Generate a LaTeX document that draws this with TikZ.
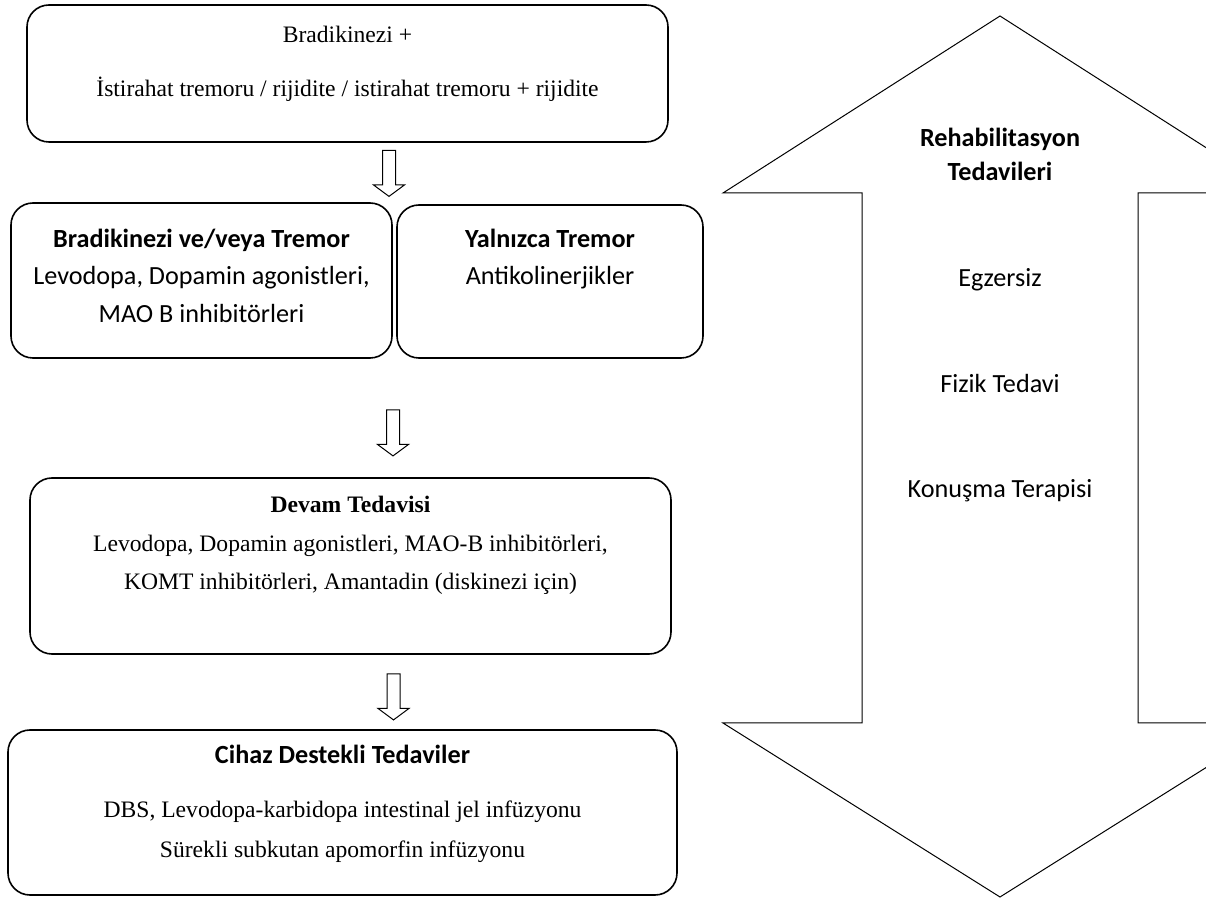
\documentclass[tikz,border=0pt]{standalone}
\usepackage{fontspec}
\setmainfont{Liberation Serif}
\newfontfamily\calibri{Carlito}
\usetikzlibrary{shapes.arrows}

\begin{document}
\begin{tikzpicture}[x=0.5pt,y=-0.5pt,
	box/.style={draw, line width=0.8pt, rounded corners=11pt, inner sep=0pt},
	serif/.style={anchor=base, inner sep=0pt, font=\fontsize{11.8}{14}\selectfont},
	sans/.style={anchor=base, inner sep=0pt, font=\calibri\fontsize{13.1}{16}\selectfont},
	blockarrow/.style={draw, line width=0.5pt, single arrow, rotate=-90, minimum height=23pt,
		inner sep=3pt, single arrow head extend=4.5pt, single arrow tip angle=107}]
	\useasboundingbox (0,0) rectangle (1206,898);
	\clip (0,0) rectangle (1206,898);
	%\draw[help lines] (0,0) grid[step=100] (1206,898);

	% rehabilitation double arrow
	\draw[line width=0.5pt] (1000,16) -- (1277,193) -- (1138,193) -- (1138,723) -- (1277,723)
		-- (1000,897) -- (723,723) -- (862,723) -- (862,193) -- (723,193) -- cycle;
	\node[sans] (r1) at (1000,147) {\bfseries Rehabilitasyon};
	\node[sans] (r2) at (1000,181) {\bfseries Tedavileri};
	\node[sans] (r3) at (1000,287) {Egzersiz};
	\node[sans] (r4) at (1000,393) {Fizik Tedavi};
	\node[sans] (r5) at (1000,498) {Konuşma Terapisi};

	% boxes
	\node[box, minimum width=320.5pt, minimum height=68.5pt] (b1) at (347.5,73.5) {};
	\node[box, minimum width=190.5pt, minimum height=77.5pt] (b2a) at (201.5,280.5) {};
	\node[box, minimum width=153pt, minimum height=76.5pt] (b2b) at (550,281.5) {};
	\node[box, minimum width=320.5pt, minimum height=88pt] (b3) at (350.5,566) {};
	\node[box, minimum width=334.5pt, minimum height=82.5pt] (b4) at (342.5,812.5) {};

	% texts
	\node[serif] (b1l1) at (347.5,43) {Bradikinezi +};
	\node[serif] (b1l2) at (347.5,97) {İstirahat tremoru / rijidite / istirahat tremoru + rijidite};

	\node[sans] (b2al1) at (201.5,248) {\bfseries Bradikinezi ve/veya Tremor};
	\node[sans] (b2al2) at (201.5,285) {Levodopa, Dopamin agonistleri,};
	\node[sans] (b2al3) at (201.5,323) {MAO B inhibitörleri};

	\node[sans] (b2bl1) at (550,248) {\bfseries Yalnızca Tremor};
	\node[sans] (b2bl2) at (550,285) {Antikolinerjikler};

	\node[serif] (b3l1) at (350.5,513) {\bfseries Devam Tedavisi};
	\node[serif] (b3l2) at (350.5,552) {Levodopa, Dopamin agonistleri, MAO-B inhibitörleri,};
	\node[serif] (b3l3) at (350.5,590) {KOMT inhibitörleri, Amantadin (diskinezi için)};

	\node[sans] (b4l1) at (342.5,763) {\bfseries Cihaz Destekli Tedaviler};
	\node[serif] (b4l2) at (342.5,817) {DBS, Levodopa-karbidopa intestinal jel infüzyonu};
	\node[serif] (b4l3) at (342.5,857) {Sürekli subkutan apomorfin infüzyonu};

	% block arrows between the boxes
	\node[blockarrow] (a1) at (389,171) {};
	\node[blockarrow] (a2) at (393,430.5) {};
	\node[blockarrow] (a3) at (393.5,694.5) {};
\end{tikzpicture}
\end{document}
